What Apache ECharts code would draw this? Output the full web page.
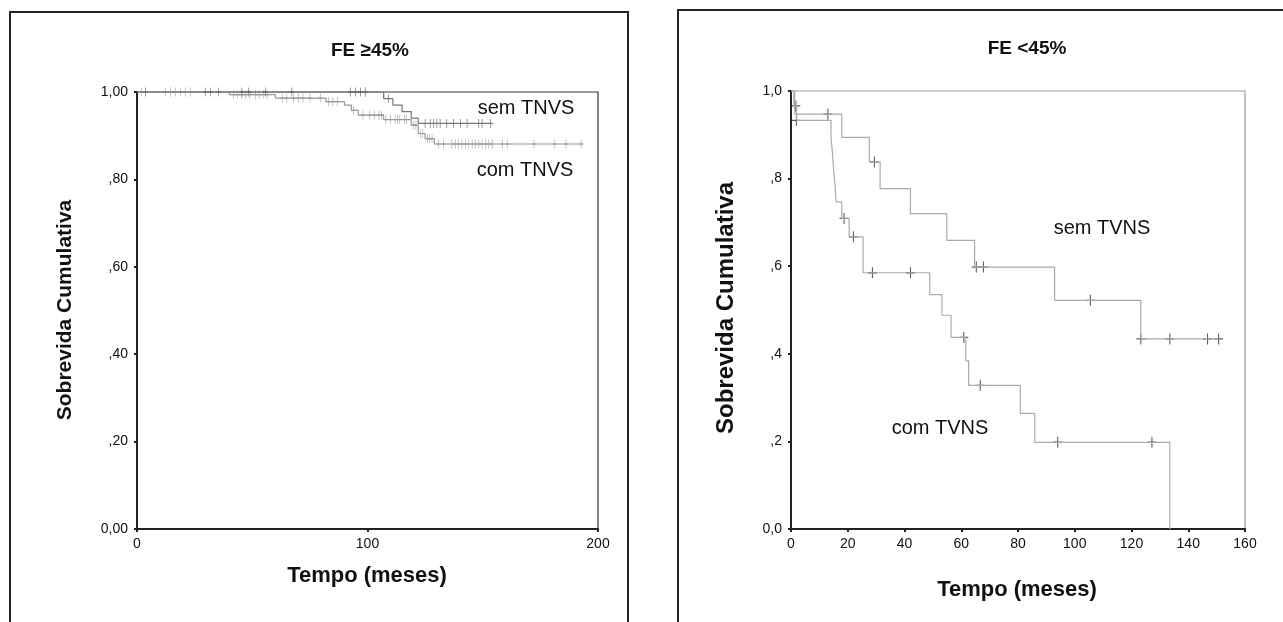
<!DOCTYPE html>
<html>
<head>
<meta charset="utf-8">
<script src="https://cdn.jsdelivr.net/npm/echarts@6/dist/echarts.min.js"></script>
<style>
  html, body { margin: 0; padding: 0; background: #fff; }
  #main { width: 1283px; height: 622px; }
</style>
</head>
<body>
<div id="main"></div>
<script>
// ---- left panel: FE >=45% ----
var leftXTicks = ['0', '100', '200'];
var leftYTicks = ['0,00', ',20', ',40', ',60', ',80', '1,00'];

var leftComTimes = [0, 40, 60, 82, 90, 93, 96, 107, 119, 122, 125, 129, 193];
var leftComSurv = [1, 0.994, 0.986, 0.978, 0.970, 0.958, 0.947, 0.937, 0.924, 0.905, 0.893, 0.881, 0.881];
var leftComCensT = [2, 12.3, 14.5, 16.6, 18.8, 20.9, 23.1,
  42, 43.5, 45.5, 47, 49, 51.5, 53, 55, 56.5,
  63, 65, 68, 70, 72, 75, 79.5,
  83, 85, 87, 94,
  98, 101, 103, 105, 106,
  108, 110, 112, 113, 114, 116, 117,
  120, 121, 123, 124, 126, 127, 128,
  130.8, 133, 136.6, 138.1, 139.5, 141, 142.5, 143.9, 145.4, 146.8, 148.3, 149.7, 151.2, 152.6, 154.1, 158.5, 160.6, 172.3, 181, 186.1, 192.7];
var leftComCensS = [1, 1, 1, 1, 1, 1, 1,
  0.994, 0.994, 0.994, 0.994, 0.994, 0.994, 0.994, 0.994, 0.994,
  0.986, 0.986, 0.986, 0.986, 0.986, 0.986, 0.986,
  0.978, 0.978, 0.978, 0.958,
  0.947, 0.947, 0.947, 0.947, 0.947,
  0.937, 0.937, 0.937, 0.937, 0.937, 0.937, 0.937,
  0.924, 0.924, 0.905, 0.905, 0.893, 0.893, 0.893,
  0.881, 0.881, 0.881, 0.881, 0.881, 0.881, 0.881, 0.881, 0.881, 0.881, 0.881, 0.881, 0.881, 0.881, 0.881, 0.881, 0.881, 0.881, 0.881, 0.881, 0.881];

var leftSemTimes = [0, 107, 111, 115, 119, 122, 154];
var leftSemSurv = [1, 0.985, 0.97, 0.955, 0.94, 0.928, 0.928];
var leftSemCensT = [3.6, 29.6, 31.8, 35.4, 45.5, 48.4, 55.7, 67.2, 92.5, 94.7, 96.9, 99, 109,
  125, 127.2, 128.6, 130.1, 131.5, 134.4, 137.3, 140.3, 143.2, 148.3, 149.7, 153.4];
var leftSemCensS = [1, 1, 1, 1, 1, 1, 1, 1, 1, 1, 1, 1, 0.985,
  0.928, 0.928, 0.928, 0.928, 0.928, 0.928, 0.928, 0.928, 0.928, 0.928, 0.928, 0.928];

// ---- right panel: FE <45% ----
var rightXTicks = ['0', '20', '40', '60', '80', '100', '120', '140', '160'];
var rightYTicks = ['0,0', ',2', ',4', ',6', ',8', '1,0'];

var rightSemTimes = [0, 1.3, 17.9, 27.6, 31.4, 42.1, 54.9, 64.7, 92.9, 123.3, 150.7];
var rightSemSurv = [1, 0.947, 0.894, 0.838, 0.777, 0.720, 0.659, 0.598, 0.522, 0.434, 0.434];
var rightSemCensT = [13.0, 29.4, 65.3, 67.8, 105.5, 123.3, 133.5, 146.8, 150.7];
var rightSemCensS = [0.947, 0.838, 0.598, 0.598, 0.522, 0.434, 0.434, 0.434, 0.434];

var rightComTimes = [0, 1.0, 2.0, 14.1, 14.6, 15.0, 15.5, 15.9, 17.9, 20.5, 25.4, 48.9, 53.2, 56.4, 61.6, 62.6, 80.8, 85.9, 133.5];
var rightComSurv = [1, 0.966, 0.933, 0.896, 0.858, 0.822, 0.785, 0.747, 0.709, 0.667, 0.585, 0.535, 0.488, 0.4375, 0.384, 0.328, 0.264, 0.198, 0];
var rightComCensT = [1.7, 1.9, 18.7, 22.0, 28.7, 42.1, 60.9, 66.7, 94.0, 127.2];
var rightComCensS = [0.966, 0.933, 0.709, 0.667, 0.585, 0.585, 0.4375, 0.328, 0.198, 0.198];

var FONT = 'Arial, "Liberation Sans", Helvetica, sans-serif';
var plus = 'path://M0,4.4L10,4.4L10,5.6L0,5.6Z M4.4,0L5.6,0L5.6,10L4.4,10Z';

function zip(a, b) {
  return a.map(function (v, i) { return [v, b[i]]; });
}

function stepSeries(idx, times, surv, color, width) {
  return {
    type: 'line', xAxisIndex: idx, yAxisIndex: idx,
    step: 'end', showSymbol: false, silent: true,
    lineStyle: { color: color, width: width },
    data: zip(times, surv)
  };
}

function censSeries(idx, times, surv, color, size) {
  return {
    type: 'scatter', xAxisIndex: idx, yAxisIndex: idx,
    symbol: plus, symbolSize: size, silent: true,
    itemStyle: { color: color },
    data: zip(times, surv)
  };
}

function xAxisFor(idx, max, interval, labels) {
  return {
    type: 'value', gridIndex: idx, min: 0, max: max, interval: interval,
    splitLine: { show: false },
    axisLine: { show: true, lineStyle: { color: '#222', width: 2 } },
    axisTick: { show: true, length: 3, lineStyle: { color: '#222', width: 2 } },
    axisLabel: {
      margin: 8, fontSize: 14, color: '#111', fontFamily: FONT,
      formatter: function (v) { return labels[Math.round(v / interval)]; }
    }
  };
}

function yAxisFor(idx, labels) {
  return {
    type: 'value', gridIndex: idx, min: 0, max: 1, interval: 0.2,
    splitLine: { show: false },
    axisLine: { show: true, lineStyle: { color: '#222', width: 2 } },
    axisTick: { show: true, length: 3, lineStyle: { color: '#222', width: 2 } },
    axisLabel: {
      margin: 9, fontSize: 14, color: '#111', fontFamily: FONT,
      formatter: function (v) { return labels[Math.round(v / 0.2)]; }
    }
  };
}

function label(x, y, text, size, weight, rot) {
  return {
    type: 'text', x: x, y: y, rotation: rot || 0,
    style: {
      text: text, fill: '#111', fontSize: size, fontWeight: weight,
      fontFamily: FONT, align: 'center', verticalAlign: 'middle'
    }
  };
}

var chart = echarts.init(document.getElementById('main'));

chart.setOption({
  animation: false,
  backgroundColor: '#fff',
  grid: [
    { left: 137, right: 685, top: 92, bottom: 93, show: true, borderColor: '#333', borderWidth: 1.2 },
    { left: 791, right: 38, top: 91, bottom: 93, show: true, borderColor: '#999', borderWidth: 1.2 }
  ],
  xAxis: [xAxisFor(0, 200, 100, leftXTicks), xAxisFor(1, 160, 20, rightXTicks)],
  yAxis: [yAxisFor(0, leftYTicks), yAxisFor(1, rightYTicks)],
  graphic: [
    { type: 'rect', shape: { x: 10, y: 12, width: 618, height: 640 }, style: { fill: 'none', stroke: '#222', lineWidth: 2 } },
    { type: 'rect', shape: { x: 678, y: 10, width: 700, height: 640 }, style: { fill: 'none', stroke: '#222', lineWidth: 2 } },
    label(370, 51, 'FE \u226545%', 19, 'bold'),
    label(1027, 49, 'FE <45%', 19, 'bold'),
    label(65, 310, 'Sobrevida Cumulativa', 21, 'bold', Math.PI / 2),
    label(726, 308, 'Sobrevida Cumulativa', 24, 'bold', Math.PI / 2),
    label(367, 576, 'Tempo (meses)', 22, 'bold'),
    label(1017, 590, 'Tempo (meses)', 22, 'bold'),
    label(526, 108, 'sem TNVS', 20, 'normal'),
    label(525, 170, 'com TNVS', 20, 'normal'),
    label(1102, 228, 'sem TVNS', 20, 'normal'),
    label(940, 428, 'com TVNS', 20, 'normal')
  ],
  series: [
    stepSeries(0, leftComTimes, leftComSurv, '#999', 1.2),
    stepSeries(0, leftSemTimes, leftSemSurv, '#777', 1.2),
    censSeries(0, leftComCensT, leftComCensS, '#888', [5, 9]),
    censSeries(0, leftSemCensT, leftSemCensS, '#333', [5, 9]),
    stepSeries(1, rightSemTimes, rightSemSurv, '#aaa', 1.2),
    stepSeries(1, rightComTimes, rightComSurv, '#aaa', 1.2),
    censSeries(1, rightSemCensT, rightSemCensS, '#333', [9, 11]),
    censSeries(1, rightComCensT, rightComCensS, '#333', [9, 11])
  ]
});
</script>
</body>
</html>
